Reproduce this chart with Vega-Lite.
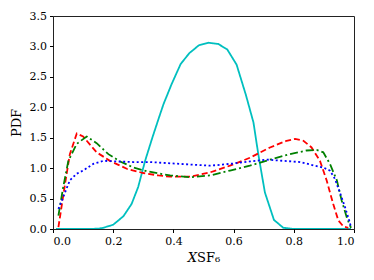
{
  "$schema": "https://vega.github.io/schema/vega-lite/v6.json",
  "width": 301,
  "height": 213,
  "autosize": {"type": "none"},
  "padding": {"left": 53, "top": 16, "right": 20, "bottom": 51},
  "background": "white",
  "config": {
    "font": "DejaVu Serif",
    "view": {"stroke": "#222", "strokeWidth": 1},
    "axis": {"grid": false, "domain": false, "tickColor": "#000", "tickSize": 3.5, "labelFont": "DejaVu Serif", "labelFontSize": 11, "labelColor": "#000", "titleFont": "DejaVu Serif", "titleFontWeight": "normal", "titleColor": "#000", "titleFontSize": 13, "labelPadding": 3}
  },
  "data": {"values": [
    {"s": "cyan", "x": 0.01, "y": 0},
    {"s": "cyan", "x": 0.1, "y": 0},
    {"s": "cyan", "x": 0.15, "y": 0.005},
    {"s": "cyan", "x": 0.167, "y": 0.02},
    {"s": "cyan", "x": 0.2, "y": 0.07},
    {"s": "cyan", "x": 0.234, "y": 0.21},
    {"s": "cyan", "x": 0.261, "y": 0.41},
    {"s": "cyan", "x": 0.283, "y": 0.69},
    {"s": "cyan", "x": 0.306, "y": 1.12},
    {"s": "cyan", "x": 0.33, "y": 1.5},
    {"s": "cyan", "x": 0.35, "y": 1.8},
    {"s": "cyan", "x": 0.367, "y": 2.05},
    {"s": "cyan", "x": 0.394, "y": 2.38},
    {"s": "cyan", "x": 0.424, "y": 2.71},
    {"s": "cyan", "x": 0.453, "y": 2.89},
    {"s": "cyan", "x": 0.485, "y": 3.02},
    {"s": "cyan", "x": 0.516, "y": 3.06},
    {"s": "cyan", "x": 0.549, "y": 3.04},
    {"s": "cyan", "x": 0.579, "y": 2.95},
    {"s": "cyan", "x": 0.61, "y": 2.7},
    {"s": "cyan", "x": 0.641, "y": 2.2},
    {"s": "cyan", "x": 0.666, "y": 1.75},
    {"s": "cyan", "x": 0.682, "y": 1.23},
    {"s": "cyan", "x": 0.704, "y": 0.6},
    {"s": "cyan", "x": 0.734, "y": 0.15},
    {"s": "cyan", "x": 0.765, "y": 0.02},
    {"s": "cyan", "x": 0.8, "y": 0},
    {"s": "cyan", "x": 0.99, "y": 0},
    {"s": "red", "x": 0.018, "y": 0.03},
    {"s": "red", "x": 0.04, "y": 0.74},
    {"s": "red", "x": 0.056, "y": 1.23},
    {"s": "red", "x": 0.079, "y": 1.57},
    {"s": "red", "x": 0.1, "y": 1.52},
    {"s": "red", "x": 0.145, "y": 1.26},
    {"s": "red", "x": 0.189, "y": 1.12},
    {"s": "red", "x": 0.245, "y": 0.99},
    {"s": "red", "x": 0.3, "y": 0.92},
    {"s": "red", "x": 0.35, "y": 0.88},
    {"s": "red", "x": 0.389, "y": 0.86},
    {"s": "red", "x": 0.455, "y": 0.86},
    {"s": "red", "x": 0.522, "y": 0.93},
    {"s": "red", "x": 0.588, "y": 1.04},
    {"s": "red", "x": 0.654, "y": 1.17},
    {"s": "red", "x": 0.721, "y": 1.34},
    {"s": "red", "x": 0.776, "y": 1.45},
    {"s": "red", "x": 0.804, "y": 1.48},
    {"s": "red", "x": 0.832, "y": 1.45},
    {"s": "red", "x": 0.859, "y": 1.34},
    {"s": "red", "x": 0.887, "y": 1.12},
    {"s": "red", "x": 0.909, "y": 0.8},
    {"s": "red", "x": 0.931, "y": 0.41},
    {"s": "red", "x": 0.948, "y": 0.14},
    {"s": "red", "x": 0.965, "y": 0.04},
    {"s": "red", "x": 0.981, "y": 0.02},
    {"s": "green", "x": 0.018, "y": 0.22},
    {"s": "green", "x": 0.034, "y": 0.69},
    {"s": "green", "x": 0.051, "y": 1.12},
    {"s": "green", "x": 0.079, "y": 1.4},
    {"s": "green", "x": 0.112, "y": 1.52},
    {"s": "green", "x": 0.145, "y": 1.41},
    {"s": "green", "x": 0.184, "y": 1.23},
    {"s": "green", "x": 0.223, "y": 1.11},
    {"s": "green", "x": 0.267, "y": 1.01},
    {"s": "green", "x": 0.311, "y": 0.95},
    {"s": "green", "x": 0.355, "y": 0.91},
    {"s": "green", "x": 0.389, "y": 0.88},
    {"s": "green", "x": 0.455, "y": 0.85},
    {"s": "green", "x": 0.522, "y": 0.88},
    {"s": "green", "x": 0.588, "y": 0.96},
    {"s": "green", "x": 0.654, "y": 1.04},
    {"s": "green", "x": 0.721, "y": 1.14},
    {"s": "green", "x": 0.787, "y": 1.23},
    {"s": "green", "x": 0.843, "y": 1.29},
    {"s": "green", "x": 0.876, "y": 1.3},
    {"s": "green", "x": 0.898, "y": 1.26},
    {"s": "green", "x": 0.92, "y": 1.07},
    {"s": "green", "x": 0.943, "y": 0.8},
    {"s": "green", "x": 0.959, "y": 0.47},
    {"s": "green", "x": 0.976, "y": 0.19},
    {"s": "green", "x": 0.984, "y": 0.09},
    {"s": "green", "x": 0.99, "y": 0.02},
    {"s": "blue", "x": 0.018, "y": 0.33},
    {"s": "blue", "x": 0.04, "y": 0.6},
    {"s": "blue", "x": 0.056, "y": 0.8},
    {"s": "blue", "x": 0.079, "y": 0.91},
    {"s": "blue", "x": 0.1, "y": 0.96},
    {"s": "blue", "x": 0.134, "y": 1.07},
    {"s": "blue", "x": 0.167, "y": 1.12},
    {"s": "blue", "x": 0.212, "y": 1.11},
    {"s": "blue", "x": 0.267, "y": 1.1},
    {"s": "blue", "x": 0.322, "y": 1.1},
    {"s": "blue", "x": 0.389, "y": 1.08},
    {"s": "blue", "x": 0.455, "y": 1.06},
    {"s": "blue", "x": 0.522, "y": 1.04},
    {"s": "blue", "x": 0.588, "y": 1.07},
    {"s": "blue", "x": 0.654, "y": 1.11},
    {"s": "blue", "x": 0.71, "y": 1.14},
    {"s": "blue", "x": 0.765, "y": 1.12},
    {"s": "blue", "x": 0.821, "y": 1.1},
    {"s": "blue", "x": 0.87, "y": 1.04},
    {"s": "blue", "x": 0.898, "y": 1.01},
    {"s": "blue", "x": 0.92, "y": 0.96},
    {"s": "blue", "x": 0.937, "y": 0.82},
    {"s": "blue", "x": 0.953, "y": 0.6},
    {"s": "blue", "x": 0.97, "y": 0.36},
    {"s": "blue", "x": 0.984, "y": 0.14},
    {"s": "blue", "x": 0.99, "y": 0.03}
  ]},
  "mark": {"type": "line", "strokeWidth": 1.8, "clip": true},
  "encoding": {
    "x": {"field": "x", "type": "quantitative", "scale": {"domain": [0, 1], "nice": false, "zero": false},
      "axis": {"values": [0, 0.2, 0.4, 0.6, 0.8, 1.0], "format": ".1f", "title": "𝑋SF₆", "titlePadding": 5}},
    "y": {"field": "y", "type": "quantitative", "scale": {"domain": [0, 3.5], "nice": false},
      "axis": {"values": [0, 0.5, 1, 1.5, 2, 2.5, 3, 3.5], "format": ".1f", "title": "PDF", "titlePadding": 6}},
    "color": {"field": "s", "type": "nominal", "legend": null,
      "scale": {"domain": ["cyan", "red", "green", "blue"], "range": ["#00BFBF", "#FF0000", "#008000", "#0000FF"]}},
    "strokeDash": {"field": "s", "type": "nominal", "legend": null,
      "scale": {"domain": ["cyan", "red", "green", "blue"], "range": [[1, 0], [6, 3], [8, 3, 2, 3], [2, 2.5]]}}
  }
}
